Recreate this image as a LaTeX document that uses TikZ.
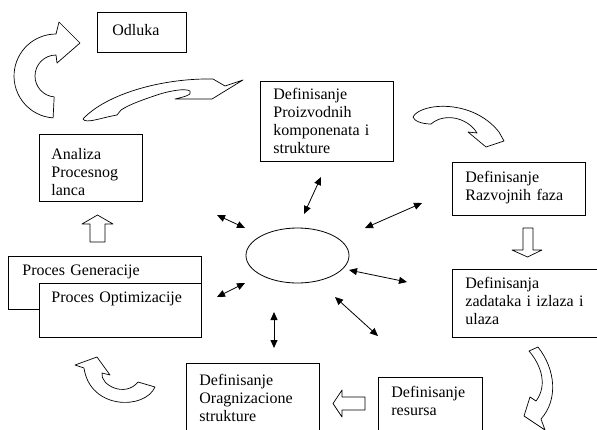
\documentclass[tikz,border=0pt]{standalone}
\usepackage{fontspec}
\setmainfont{Liberation Serif}
\usetikzlibrary{arrows.meta,shapes.geometric}

\begin{document}
\begin{tikzpicture}[x=1pt,y=1pt,yscale=-1,line width=0.8pt,
	kutija/.style={draw,anchor=north west,align=left,inner xsep=13pt,inner ysep=0pt,text height=19pt,font=\fontsize{16}{18}\selectfont},
	strelica/.style={draw,line width=0.7pt,line join=round,fill=white},
	dvosmjer/.style={{Triangle[length=8pt,width=7pt]}-{Triangle[length=8pt,width=7pt]},line width=0.8pt}]
	\useasboundingbox (0,0) rectangle (597,429);
	\clip (0,0) rectangle (597,429);
	\node (odluka) at (97,12) [kutija,inner xsep=15pt,text width=59pt,text height=23pt,text depth=17pt] {Odluka};
	\node (analiza) at (39,134) [kutija,inner xsep=12pt,text width=79pt,text height=25pt,text depth=42pt] {Analiza\\Procesnog\\lanca};
	\node (proizvodne) at (260,81) [kutija,text width=107pt,text height=18pt,text depth=62pt] {Definisanje\\Proizvodnih\\komponenata i\\strukture};
	\node (faze) at (452,162) [kutija,text width=107pt,text height=20pt,text depth=33pt] {Definisanje\\Razvojnih faza};
	\node (zadaci) at (452,269) [kutija,text width=118.5pt,text depth=49pt] {Definisanja\\zadataka i izlaza i\\ulaza};
	\node (resursi) at (378,377) [kutija,text width=78pt,text height=20pt,text depth=45pt] {Definisanje\\resursa};
	\node (organizacija) at (186,363) [kutija,text width=107pt,text height=22pt,text depth=53pt] {Definisanje\\Oragnizacione\\strukture};
	\node (generacija) at (8,256) [kutija,inner xsep=14pt,text width=165pt,text depth=34pt] {Proces Generacije};
	\node (optimizacija) at (39,283) [kutija,inner xsep=12pt,fill=white,text width=138pt,text depth=35pt] {Proces Optimizacije};
	\node (jezgro) at (297.5,255.5) [draw,ellipse,minimum width=103pt,minimum height=55pt,inner sep=0pt] {};

	\coordinate (g1a) at (304,214); \coordinate (g1b) at (321,177);
	\coordinate (g2a) at (365,228); \coordinate (g2b) at (422,203);
	\coordinate (g3a) at (349,270); \coordinate (g3b) at (407,282);
	\coordinate (g4a) at (335,297); \coordinate (g4b) at (378,336);
	\coordinate (g5a) at (274,312); \coordinate (g5b) at (274,348);
	\coordinate (g6a) at (245,283); \coordinate (g6b) at (217,297);
	\coordinate (g7a) at (245,228); \coordinate (g7b) at (217,215);
	\draw[dvosmjer] (g1a) -- (g1b);
	\draw[dvosmjer] (g2a) -- (g2b);
	\draw[dvosmjer] (g3a) -- (g3b);
	\draw[dvosmjer] (g4a) -- (g4b);
	\draw[dvosmjer] (g5a) -- (g5b);
	\draw[dvosmjer] (g6a) -- (g6b);
	\draw[dvosmjer] (g7a) -- (g7b);

	\draw[strelica] (97.5,215) -- (113,224) -- (105,224) -- (105,242) -- (90,242) -- (90,224) -- (82,224) -- cycle;
	\draw[strelica] (523,228) -- (533,228) -- (533,250) -- (542,250) -- (527.5,257) -- (512,250) -- (523,250) -- cycle;
	\draw[strelica] (333,403.5) -- (342,390) -- (342,397) -- (365,397) -- (365,410) -- (342,410) -- (342,417) -- cycle;

	\draw[strelica] (53.1,117.9) arc[start angle=94,end angle=270,radius=42pt] -- (59,22) -- (80,43) -- (57,63) -- (56,55) arc[start angle=270,end angle=95,radius=21pt] -- cycle;
	\draw[strelica] (83,119) .. controls (105,95) and (160,78) .. (213,79) -- (225,86) -- (243,80) -- (212,99) -- (175,99) .. controls (183,97) and (193,95) .. (190,91) .. controls (185,88) and (170,91) .. (160,94) .. controls (145,99) and (130,104) .. (121,110) -- (117,115) .. controls (100,118) and (86,124) .. (83,119) -- cycle;
	\draw[strelica] (413,117) .. controls (420,103) and (472,98) .. (499,132) -- (504,141) -- (486,147) -- (468,132) -- (477,133) .. controls (468,118) and (445,112) .. (431,124) .. controls (422,124) and (414,121) .. (413,117) -- cycle;
	\draw[strelica] (529,351) -- (538,347) .. controls (556,370) and (558,400) .. (541,419) -- (545,430) -- (524,416) -- (530,397) -- (536,401) .. controls (548,385) and (541,365) .. (529,351) -- cycle;
	\draw[strelica] (97,357) -- (110,375) -- (102,373) .. controls (100,385) and (125,398) .. (138,382) -- (155,387) .. controls (145,410) and (90,410) .. (84,368) -- (75,365) -- cycle;
\end{tikzpicture}
\end{document}
